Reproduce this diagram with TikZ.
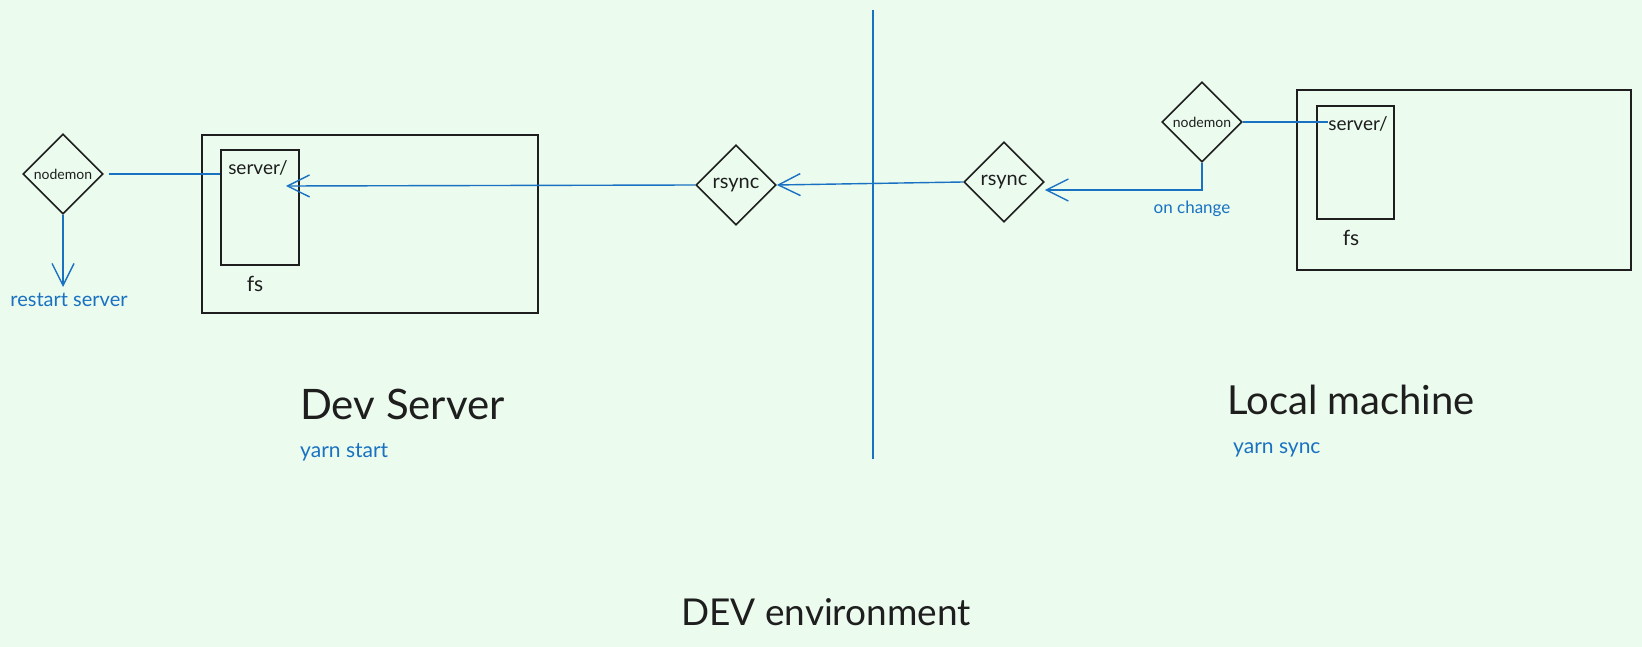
\documentclass[tikz,border=0pt]{standalone}
\usepackage{fontspec}
\setmainfont{Lato}
\usetikzlibrary{shapes.geometric,arrows.meta}
\definecolor{bg}{HTML}{EBFBEE}
\definecolor{ink}{HTML}{1E1E1E}
\definecolor{blu}{HTML}{1971C2}
\tikzset{
  box/.style={draw=ink, line width=1.6pt},
  dia/.style={diamond, draw=ink, line width=1.6pt, aspect=1, inner sep=0pt, minimum width=80pt, minimum height=80pt, text=ink},
  link/.style={draw=blu, line width=1.4pt},
  arr/.style={link, -{Straight Barb[length=22pt,width=22pt,line width=1.4pt]}},
  bluetxt/.style={text=blu, inner sep=0pt},
  inktxt/.style={text=ink, inner sep=0pt},
}
\begin{document}
\begin{tikzpicture}[x=1pt,y=-1pt]
\fill[bg] (0,0) rectangle (1642,647);
\useasboundingbox (0,0) rectangle (1642,647);

% divider
\coordinate (vt) at (873,10);
\coordinate (vb) at (873,459);
\draw[blu, line width=2.2pt] (vt) -- (vb);

% left machine
\node[box, minimum width=336pt, minimum height=178pt, anchor=north west] (lout) at (201,134) {};
\node[box, minimum width=78pt, minimum height=115pt, anchor=north west] (lin) at (220,149) {};
\node[inktxt, font=\fontsize{19}{19}\selectfont] (lsrv) at (258,168) {server/};
\node[inktxt, font=\fontsize{21}{21}\selectfont] (lfs) at (255,284) {fs};
\coordinate (ltip) at (286,186);

\node[dia, font=\fontsize{14}{14}\selectfont] (ln) at (63,174) {nodemon};
\node[bluetxt, font=\fontsize{20}{20}\selectfont] (lrestart) at (69,300) {restart server};
\coordinate (ldown) at (63,287);
\draw[link, shorten <=5pt] (ln.east) -- (ln.east -| lin.west);
\draw[arr] (ln.south) -- (ldown);

% rsync diamonds
\node[dia, font=\fontsize{20}{20}\selectfont] (lr) at (736,185) {rsync};
\node[dia, font=\fontsize{20}{20}\selectfont] (rr) at (1004,182) {rsync};
\draw[arr] (lr.west) -- (ltip);
\draw[arr] (rr.west) -- (lr.east);

% right machine
\node[box, minimum width=334pt, minimum height=180pt, anchor=north west] (rout) at (1296,89) {};
\node[box, minimum width=77pt, minimum height=113pt, anchor=north west] (rin) at (1316,105) {};
\node[inktxt, font=\fontsize{19}{19}\selectfont] (rsrv) at (1358,124) {server/};
\node[inktxt, font=\fontsize{21}{21}\selectfont] (rfs) at (1351,238) {fs};

\node[dia, font=\fontsize{14}{14}\selectfont] (rn) at (1202,122) {nodemon};
\node[bluetxt, font=\fontsize{17}{17}\selectfont] (onch) at (1192,209) {on change};
\draw[link] (rn.east) -- (rn.east -| rsrv.west);
\draw[arr] (rn.south) |- ([yshift=-8pt]rr.east);

% titles
\node[inktxt, font=\fontsize{42}{42}\selectfont, anchor=west] (devsrv) at (300,404) {Dev Server};
\node[bluetxt, font=\fontsize{21}{21}\selectfont, anchor=west] (ystart) at (300,452) {yarn start};
\node[inktxt, font=\fontsize{40}{40}\selectfont, anchor=west] (local) at (1227,400) {Local machine};
\node[bluetxt, font=\fontsize{21}{21}\selectfont, anchor=west] (ysync) at (1233,450) {yarn sync};
\node[inktxt, font=\fontsize{37}{37}\selectfont] (devenv) at (826,612) {DEV environment};
\end{tikzpicture}
\end{document}
